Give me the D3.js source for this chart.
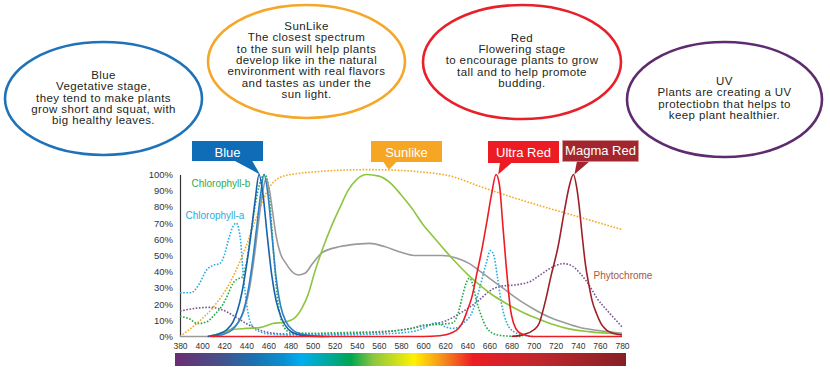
<!DOCTYPE html>
<html>
<head>
<meta charset="utf-8">
<script src="https://cdn.jsdelivr.net/npm/d3@7"></script>
<style>
  body { margin: 0; background: #fff; }
  svg { display: block; font-family: "Liberation Sans", Arial, sans-serif; }
</style>
</head>
<body>
<div id="chart"></div>
<script>
// axis ticks
const wlTicks = [380, 400, 420, 440, 460, 480, 500, 520, 540, 560, 580, 600, 620, 640, 660, 680, 700, 720, 740, 760, 780];
const pctTicks = [0, 10, 20, 30, 40, 50, 60, 70, 80, 90, 100];

// spectra, [wavelength nm, relative %]
const sunlight = [[380,0],[395,8],[410,18],[425,33],[440,56],[450,75],[460,91],[470,98],[485,100.5],[500,101.5],[520,102.5],[550,103],[580,102.5],[600,101.5],[625,99],[650,93],[667,89],[690,84],[712,79.5],[740,74],[760,70],[780,66]];
const phytochrome = [[380,15.7],[395,17.5],[408,18],[418,16.5],[428,13],[440,8],[452,4],[465,2],[480,1.5],[510,1.5],[540,2],[560,2.5],[580,4],[600,6.5],[620,9.5],[635,15],[650,22],[660,28],[670,31],[685,32],[697,34],[706,38],[716,42.5],[727,45],[735,43.5],[742,39],[750,32],[757,24],[768,15],[780,6]];
const chlorophyllA = [[380,27],[390,27],[397,32],[404,41],[410,44],[416,45],[420,50],[424,60],[428,68],[431,70],[433,67],[435,58],[437,40],[439,27],[442,13],[446,6],[452,3],[462,1.5],[480,1],[520,1],[560,1.5],[590,3],[600,5],[612,8.5],[620,6],[628,5],[636,8],[645,16],[652,32],[657,45],[661,53],[664,50],[667,38],[671,20],[676,8],[682,3],[690,1],[700,0]];
const chlorophyllB = [[380,12.5],[388,11],[396,8],[404,9],[412,14],[419,20],[424,27],[428,33],[432,35.5],[436,36.5],[440,45],[445,68],[450,88],[454,98],[457,100],[460,92],[463,68],[466,40],[468,25],[471,12],[474,6],[480,2.5],[500,2],[530,2.5],[560,3],[590,5],[600,7],[615,7.5],[627,8.5],[632,15],[636,26],[639,33],[642,36],[645,32],[648,23],[652,14],[657,6],[663,2],[672,0.5],[690,0]];
const whiteLed = [[380,0],[405,0],[415,1.5],[425,4],[432,8],[438,16],[443,30],[447,48],[451,70],[455,90],[458,97.5],[461,90],[464,76],[467,62],[471,51],[476,45],[480,41],[487,38],[493,39],[500,45],[509,52],[525,55.5],[540,57],[552,57.5],[565,55.5],[580,52],[592,50],[605,50],[617,50],[630,48.5],[642,45],[652,40],[662,35],[672,30],[688,22],[700,17],[714,12],[728,8.5],[742,5.5],[760,3.5],[780,2]];
const sunlike = [[405,0],[412,1],[425,4],[440,5],[452,5.5],[464,8],[475,9],[483,11],[490,17],[496,26],[502,40],[509,54],[517,68],[525,80],[532,90],[540,97],[549,100],[560,99],[570,95],[580,87.5],[590,79],[600,69],[610,61],[620,53],[630,45.5],[640,38.5],[650,32.5],[660,27],[670,22.5],[680,18.5],[690,15],[700,12],[715,8],[730,5],[750,3],[780,1.5]];
const blueA = [[405,0],[415,1.5],[422,4],[428,9],[432,16],[436,27],[440,43],[444,62],[448,84],[451.5,100],[455,88],[459,62],[463,38],[467,22],[472,11],[478,4.5],[485,1.5],[495,0.3],[510,0]];
const blueB = [[410,0],[420,1.5],[427,4],[433,9],[437,15],[441,26],[445,43],[449,65],[453,88],[456,100],[459,91],[463,64],[467,36],[471,19],[476,9],[482,4],[490,1.5],[500,0.5],[515,0]];
const ultraRed = [[407,0],[600,0],[615,0.5],[625,2],[632,5],[636,9],[640,16],[644,24],[649,40],[653,53],[658,72],[662,88],[666,100],[669,94],[672,70],[675,45],[677,30],[679,17],[682,8],[686,3],[692,1],[700,0],[780,0]];
const magmaRed = [[680,0],[690,1],[700,4],[705,8],[710,20],[716,38],[722,55],[728,78],[732,92],[736,100],[739,92],[741,82],[744,62],[747,44],[750,32],[753,22],[757,14],[761,8],[766,4],[772,2],[780,1]];

// labels
const tagNames = ["Blue", "Sunlike", "Ultra Red", "Magma Red"];
const tagPeaks = [[451.5, 100], [568, 103], [667, 100], [736, 100]];
const bubbleBlue = ["Blue", "Vegetative stage,", "they tend to make plants", "grow short and squat, with", "big healthy leaves."];
const bubbleSun = ["SunLike", "The closest spectrum", "to the sun will help plants", "develop like in the natural", "environment with real flavors", "and tastes as under the", "sun light."];
const bubbleRed = ["Red", "Flowering stage", "to encourage plants to grow", "tall and to help promote", "budding."];
const bubbleUV = ["UV", "Plants are creating a UV", "protectiobn that helps to", "keep plant healthier."];

const width = 830, height = 377;

const svg = d3.select("#chart").append("svg")
  .attr("width", width)
  .attr("height", height);

const x = d3.scaleLinear().domain([380, 780]).range([180, 622]);
const y = d3.scaleLinear().domain([0, 100]).range([336.5, 174.5]);

// spectrum bar
const grad = svg.append("defs").append("linearGradient").attr("id", "spec");
const stops = [[0, "#6b2d73"], [0.1, "#46508a"], [0.17, "#1e6fad"], [0.24, "#0a8fd0"], [0.28, "#00aeef"], [0.34, "#00a99d"],
  [0.39, "#00a651"], [0.44, "#8dc63f"], [0.53, "#fff200"], [0.59, "#f7941d"], [0.66, "#ed1c24"], [0.8, "#c1272d"], [1, "#862025"]];
grad.selectAll("stop").data(stops).enter().append("stop")
  .attr("offset", d => d[0])
  .attr("stop-color", d => d[1]);
svg.append("rect")
  .attr("x", 175).attr("y", 353)
  .attr("width", 451).attr("height", 13)
  .attr("fill", "url(#spec)");

// axes
const yAxis = svg.append("g")
  .attr("transform", "translate(180,0)")
  .call(d3.axisLeft(y).tickValues(pctTicks).tickFormat(d => d + "%").tickSize(0).tickPadding(7));
yAxis.select(".domain").attr("stroke", "#333").attr("stroke-width", 1.2);
yAxis.selectAll("text").attr("font-size", 9.5).attr("fill", "#333").attr("font-family", "Liberation Sans, Arial, sans-serif");

const xAxis = svg.append("g")
  .attr("transform", "translate(0,336.5)")
  .call(d3.axisBottom(x).tickValues(wlTicks).tickSize(0).tickPadding(6.5));
xAxis.select(".domain").remove();
xAxis.selectAll("text").attr("font-size", 8.5).attr("fill", "#333").attr("font-family", "Liberation Sans, Arial, sans-serif");

// curves
const line = d3.line()
  .x(d => x(d[0]))
  .y(d => y(d[1]))
  .curve(d3.curveMonotoneX);

const series = [
  { data: sunlight, color: "#f7a823", dash: "1.6,1.6" },
  { data: phytochrome, color: "#7a5596", dash: "1.6,1.6" },
  { data: chlorophyllA, color: "#29abe2", dash: "1.6,1.6" },
  { data: chlorophyllB, color: "#25a94b", dash: "1.6,1.6" },
  { data: whiteLed, color: "#9a9a9a", dash: null },
  { data: sunlike, color: "#8cc63f", dash: null },
  { data: blueB, color: "#2d82c6", dash: null },
  { data: blueA, color: "#1762ad", dash: null },
  { data: magmaRed, color: "#9e1f27", dash: null },
  { data: ultraRed, color: "#ed1c24", dash: null }
];

svg.append("g").selectAll("path")
  .data(series)
  .enter().append("path")
  .attr("d", d => line(d.data))
  .attr("fill", "none")
  .attr("stroke", d => d.color)
  .attr("stroke-width", 1.6)
  .attr("stroke-dasharray", d => d.dash);

// curve names
svg.append("text").attr("x", 191.5).attr("y", 186.5).attr("font-size", 10).attr("fill", "#2eaa4a").text("Chlorophyll-b");
svg.append("text").attr("x", 185.5).attr("y", 218.5).attr("font-size", 10).attr("fill", "#29abe2").text("Chlorophyll-a");
svg.append("text").attr("x", 593.5).attr("y", 278.5).attr("font-size", 10).attr("fill", "#a8593e").text("Phytochrome");

// tags above the peaks
const tagBoxes = [
  { x: 192, y: 141, w: 71, h: 20, fill: "#0f6db7", base: [234, 252], ty: 157 },
  { x: 371, y: 141, w: 71, h: 21, fill: "#f6a623", base: [383, 397], ty: 157 },
  { x: 488, y: 141, w: 71, h: 22, fill: "#ed1c24", base: [500, 512], ty: 157.3 },
  { x: 562.5, y: 140.5, w: 76, h: 21, fill: "#a3262e", base: [577, 590], ty: 155 }
];
const tags = svg.append("g").selectAll("g")
  .data(tagBoxes)
  .enter().append("g");
tags.append("path")
  .attr("d", (d, i) => {
    const tip = [x(tagPeaks[i][0]) + 1, y(tagPeaks[i][1])];
    return `M${d.base[0]},${d.y + d.h - 0.5}L${tip[0]},${tip[1]}L${d.base[1]},${d.y + d.h - 0.5}Z`;
  })
  .attr("fill", d => d.fill);
tags.append("rect")
  .attr("x", d => d.x).attr("y", d => d.y)
  .attr("width", d => d.w).attr("height", d => d.h)
  .attr("fill", d => d.fill)
  .attr("stroke", (d, i) => i === 3 ? "#d99a9a" : "none")
  .attr("stroke-width", 0.7);
tags.append("text")
  .attr("x", d => d.x + d.w / 2)
  .attr("y", d => d.ty)
  .attr("text-anchor", "middle")
  .attr("font-size", 13)
  .attr("fill", "#fff")
  .text((d, i) => tagNames[i]);

// bubbles
const bubbles = [
  { cx: 103.5, cy: 98.5, rx: 98.5, ry: 56.5, color: "#1f72ba", lines: bubbleBlue, top: 79 },
  { cx: 306.5, cy: 61.5, rx: 98.5, ry: 56.5, color: "#f5a72a", lines: bubbleSun, top: 30 },
  { cx: 522, cy: 62, rx: 99, ry: 57, color: "#e8202a", lines: bubbleRed, top: 41.7 },
  { cx: 724.5, cy: 99.5, rx: 97.5, ry: 57.5, color: "#5e2a70", lines: bubbleUV, top: 85 }
];
const bub = svg.append("g").selectAll("g")
  .data(bubbles)
  .enter().append("g");
bub.append("ellipse")
  .attr("cx", d => d.cx).attr("cy", d => d.cy)
  .attr("rx", d => d.rx).attr("ry", d => d.ry)
  .attr("fill", "#fff")
  .attr("stroke", d => d.color)
  .attr("stroke-width", 2.6);
bub.each(function (d) {
  d3.select(this).selectAll("text")
    .data(d.lines)
    .enter().append("text")
    .attr("x", d.cx)
    .attr("y", (t, i) => d.top + i * 11.3)
    .attr("text-anchor", "middle")
    .attr("font-size", 11.5)
    .attr("letter-spacing", 0.4)
    .attr("fill", "#231f20")
    .text(t => t);
});
</script>
</body>
</html>
